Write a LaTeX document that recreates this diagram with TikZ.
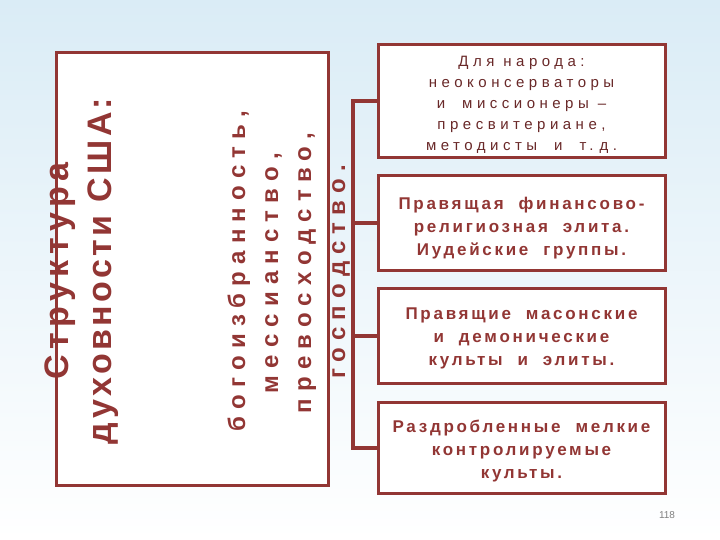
\documentclass[tikz,border=0pt]{standalone}
\usepackage{fontspec}
\setmainfont{Liberation Sans}
\newfontfamily\bigsp[LetterSpace=16]{Liberation Sans}
\newfontfamily\bigspb[LetterSpace=10]{Liberation Sans}
\newfontfamily\midsp[LetterSpace=30]{Liberation Sans}
\newfontfamily\boxsp[LetterSpace=30]{Liberation Sans}
\newfontfamily\boxbsp[LetterSpace=16]{Liberation Sans}
\newcommand\wgap{\hspace{9pt}}
\newcommand\wgapb{\hspace{17pt}}
\definecolor{maroon}{RGB}{146,54,52}
\definecolor{darkmaroon}{RGB}{105,40,40}
\definecolor{bgtop}{RGB}{218,236,246}
\definecolor{bgmid}{RGB}{232,243,249}
\tikzset{
  frame/.style={draw=maroon, line width=3pt, fill=white, inner sep=0pt},
  rbox/.style={frame, minimum width=287pt},
  conn/.style={draw=maroon, line width=4pt},
  vbig/.style={rotate=90, anchor=base, inner sep=0pt, text=maroon,
    font=\bigsp\bfseries\fontsize{34}{40}\selectfont},
  vbig2/.style={vbig, font=\bigspb\bfseries\fontsize{34}{40}\selectfont},
  vmid/.style={rotate=90, anchor=base, inner sep=0pt, text=maroon,
    font=\midsp\bfseries\fontsize{24}{30}\selectfont},
  t1/.style={text=darkmaroon, align=center, inner sep=0pt,
    font=\boxsp\fontsize{15}{21}\selectfont},
  t2/.style={text=maroon, align=center, inner sep=0pt,
    font=\boxbsp\bfseries\fontsize{17}{23}\selectfont}
}
\begin{document}
\begin{tikzpicture}[x=1pt, y=-1pt]
\useasboundingbox (0,0) rectangle (720,540);
\shade[top color=bgtop, middle color=bgmid, bottom color=white] (0,0) rectangle (720,540);

% left box
\node[frame, minimum width=272pt, minimum height=432pt] (lb) at (192,269) {};
\node[vbig] (l1) at (68,271) {Структура};
\node[vbig2] (l2) at (111,271) {духовности США:};
\node[vmid] (m1) at (245,271) {богоизбранность,};
\node[vmid] (m2) at (278,273) {мессианство,};
\node[vmid] (m3) at (311,273) {превосходство,};
\node[vmid] (m4) at (345,272) {господство.};

% right boxes
\node[rbox, minimum height=113pt] (b1) at (521.5,101.5) {};
\node[rbox, minimum height=94pt] (b2) at (521.5,223) {};
\node[rbox, minimum height=95pt] (b3) at (521.5,335.5) {};
\node[rbox, minimum height=91pt] (b4) at (521.5,447.5) {};

\node[t1] (b1t) at ([yshift=-3pt]b1.center)
  {Для\wgap народа:\\неоконсерваторы\\и\wgapb миссионеры\wgap –\\пресвитериане,\\методисты\wgapb и\wgapb т.\hspace{6pt}д.};
\node[t2] (b2t) at ([yshift=-5pt]b2.center)
  {Правящая~~финансово-\\религиозная~~элита.\\Иудейские~~группы.};
\node[t2] (b3t) at ([yshift=-3pt]b3.center)
  {Правящие~~масонские\\и~~демонические\\культы~~и~~элиты.};
\node[t2] (b4t) at ([yshift=-4pt]b4.center)
  {Раздробленные~~мелкие\\контролируемые\\культы.};

% connectors
\coordinate (top) at (353,101.5);
\coordinate (bot) at (353,447.5);
\draw[conn] (b1.west) -- (top) -- (bot) -- (b4.west);
\draw[conn] (b2.west) -- (b2.west -| top);
\draw[conn] (b3.west) -- (b3.west -| top);

% page number
\node[text=gray, font=\fontsize{10}{12}\selectfont] (pn) at (667,515) {118};
\end{tikzpicture}
\end{document}
